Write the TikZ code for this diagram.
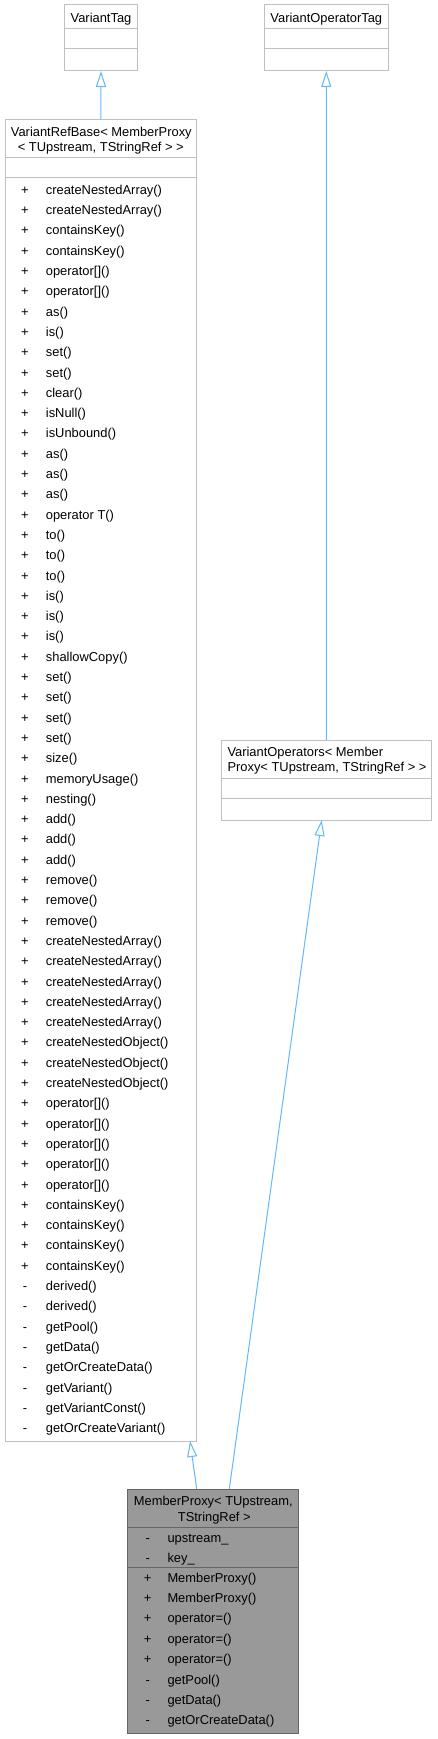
\documentclass[tikz,border=0pt]{standalone}
\usepackage{fontspec}
\setmainfont{Liberation Sans}
\usetikzlibrary{arrows.meta,calc}
\definecolor{edgeblue}{HTML}{63B8FF}
\definecolor{boxgray}{HTML}{BFBFBF}
\definecolor{mainfill}{HTML}{999999}
\definecolor{mainborder}{HTML}{666666}
\begin{document}
\begin{tikzpicture}[x=1pt,y=-1pt,
  classbox/.style={draw=boxgray, line width=1pt, fill=white, anchor=north west, inner sep=0, outer sep=0},
  mainbox/.style={draw=mainborder, fill=mainfill, line width=1pt, anchor=north west, inner sep=0, outer sep=0},
  txt/.style={font=\fontsize{12.9}{14}\selectfont, inner sep=0, text height=9.3pt, text depth=2.7pt},
  sep/.style={draw=boxgray, line width=1pt},
  mainsep/.style={draw=mainborder, line width=1pt},
  inherit/.style={draw=edgeblue, line width=1pt, -{Triangle[open, length=16pt, width=10pt]}}
]
\useasboundingbox[fill=white] (0,0) rectangle (437,1739);

% boxes
\node[classbox, minimum width=73.4pt, minimum height=66pt] (vt) at (64.3,5) {};
\node[classbox, minimum width=124pt, minimum height=66pt] (vot) at (264.3,5) {};
\node[classbox, minimum width=191.7pt, minimum height=1321.7pt] (vrb) at (5,119.3) {};
\node[classbox, minimum width=209.3pt, minimum height=80pt] (vo) at (221.7,740) {};
\node[mainbox, minimum width=170.6pt, minimum height=244.3pt] (mp) at (127.7,1489) {};

% separators
\draw[sep] (64.3,28.3) -- (137.7,28.3);
\draw[sep] (64.3,48.7) -- (137.7,48.7);
\draw[sep] (264.3,28.3) -- (388.3,28.3);
\draw[sep] (264.3,48.7) -- (388.3,48.7);
\draw[sep] (5,158) -- (196.7,158);
\draw[sep] (5,177.7) -- (196.7,177.7);
\draw[sep] (221.7,778) -- (431,778);
\draw[sep] (221.7,798.3) -- (431,798.3);
\draw[mainsep] (127.7,1527.7) -- (298.3,1527.7);
\draw[mainsep] (127.7,1567.7) -- (298.3,1567.7);

% titles
\node[txt] (vtT) at (101,19) {VariantTag};
\node[txt] (votT) at (326.3,19) {VariantOperatorTag};
\node[txt] (vrbT1) at (101.3,133.3) {VariantRefBase< MemberProxy};
\node[txt] (vrbT2) at (100.8,148.3) {< TUpstream, TStringRef > >};
\node[txt, anchor=west] (voT1) at (227.3,753.3) {VariantOperators< Member};
\node[txt, anchor=west] (voT2) at (227.3,768.3) {Proxy< TUpstream, TStringRef > >};
\node[txt] (mpT1) at (213.3,1502.3) {MemberProxy< TUpstream,};
\node[txt] (mpT2) at (214.3,1517.7) {TStringRef >};

% VariantRefBase members
\foreach \s/\n [count=\i] in {+/createNestedArray(), +/createNestedArray(), +/containsKey(), +/containsKey(),
  +/operator[](), +/operator[](), +/as(), +/is(), +/set(), +/set(), +/clear(), +/isNull(), +/isUnbound(),
  +/as(), +/as(), +/as(), +/operator T(), +/to(), +/to(), +/to(), +/is(), +/is(), +/is(), +/shallowCopy(),
  +/set(), +/set(), +/set(), +/set(), +/size(), +/memoryUsage(), +/nesting(), +/add(), +/add(), +/add(),
  +/remove(), +/remove(), +/remove(), +/createNestedArray(), +/createNestedArray(), +/createNestedArray(),
  +/createNestedArray(), +/createNestedArray(), +/createNestedObject(), +/createNestedObject(),
  +/createNestedObject(), +/operator[](), +/operator[](), +/operator[](), +/operator[](), +/operator[](),
  +/containsKey(), +/containsKey(), +/containsKey(), +/containsKey(), -/derived(), -/derived(),
  -/getPool(), -/getData(), -/getOrCreateData(), -/getVariant(), -/getVariantConst(), -/getOrCreateVariant()}
{
  \node[txt] (vrbS\i) at (25,{191+(\i-1)*20.3}) {\s};
  \node[txt, anchor=west] (vrbM\i) at (45.7,{191+(\i-1)*20.3}) {\n};
}

% MemberProxy attributes
\node[txt] (mpAS1) at (147.7,1538.7) {-};
\node[txt, anchor=west] (mpA1) at (167.3,1538.7) {upstream\_};
\node[txt] (mpAS2) at (147.7,1558.7) {-};
\node[txt, anchor=west] (mpA2) at (167.3,1558.7) {key\_};

% MemberProxy methods
\foreach \s/\n [count=\i] in {+/MemberProxy(), +/MemberProxy(), +/operator=(), +/operator=(), +/operator=(),
  -/getPool(), -/getData(), -/getOrCreateData()}
{
  \node[txt] (mpS\i) at (147.7,{1578.7+(\i-1)*20.4}) {\s};
  \node[txt, anchor=west] (mpM\i) at (167.3,{1578.7+(\i-1)*20.4}) {\n};
}

% inheritance connectors
\draw[inherit] (vrb.north) -- (vt.south);
\draw[inherit] (vo.north) -- (vot.south);
\draw[inherit] ($(mp.north west)+(69,0)$) -- ($(vrb.south west)+(185,0)$);
\draw[inherit] ($(mp.north west)+(101.6,0)$) -- ($(vo.south west)+(100,0)$);
\end{tikzpicture}
\end{document}
